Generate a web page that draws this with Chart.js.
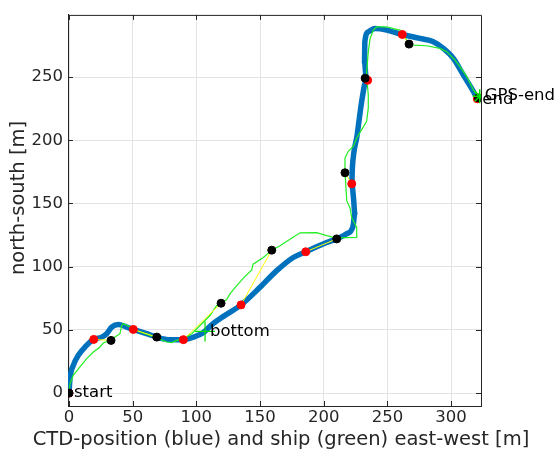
<!DOCTYPE html>
<html>
<head>
<meta charset="utf-8">
<script src="https://cdn.jsdelivr.net/npm/chart.js@4.4.0/dist/chart.umd.min.js"></script>
<style>
  html, body { margin: 0; padding: 0; background: #fff; }
</style>
</head>
<body>
<canvas id="trackChart" width="559" height="453"></canvas>
<script>
// CTD position (blue), metres east-west / north-south from start
const ctdX = [0, 0.8, 3.4, 7.3, 12.6, 19.4, 25.7, 29.6, 33.5, 38.7, 45.3, 50.5, 61, 68.9, 79.3, 89.8, 97, 105, 112, 121, 135.1,
  150, 163.1, 176.1, 185.9, 202.3, 210.2, 218, 223, 224.4, 223.5, 222, 222.5, 223.8, 225.9, 228, 229.8, 233.5, 232, 232.3,
  235, 240.3, 249.5, 261.7, 275.6, 286.1, 293.9, 301.8, 309.6, 317.5, 320.6];
const ctdY = [0, 11.8, 22, 29.9, 36.5, 42.5, 44.3, 47, 52.2, 54.3, 52.2, 50.4, 47, 44.3, 42.3, 42.3, 44, 47.5, 54, 60.5, 69.8,
  83.7, 96.9, 107.3, 111.8, 119.1, 122, 126, 132, 142, 153, 165.6, 178.2, 191.3, 202, 217.6, 230.7, 247.5, 262, 277.9,
  285.8, 288.4, 287.2, 283.7, 280.6, 278, 272.7, 264.8, 251.7, 238.6, 232.8];

// ship GPS track (green)
const shipX = [0, 0.8, 3.4, 8.6, 13.9, 19.1, 24.3, 26.9, 32.2, 36.1, 40, 41.4, 42.6, 49.2, 55.8, 63.6, 70.1, 76.7, 80.6, 84.6,
  89.8, 96.3, 102.9, 110.7, 116, 119.4, 123.8, 126.4, 130, 136.9, 143.5, 144.5, 152.6, 159.2, 165.7, 173.5, 181.4, 194.5,
  202.3, 210.2, 217, 225.9, 225.9, 222, 220.6, 218.1, 217.3, 216.7, 216.7, 219.3, 223.3, 225.9, 229.8, 233.7, 235, 235,
  234.2, 233.7, 235, 236.4, 239, 241.6, 249.5, 254.7, 259.9, 265.1, 270.4, 280.8, 291.3, 296.6, 303.1, 307, 312.3, 314.9,
  317.5, 321.4];
const shipY = [0, 7.6, 14.2, 20.7, 27.3, 32.5, 36.5, 39.6, 41.7, 44.3, 47, 53.5, 54.9, 51.7, 48.3, 45.7, 43.1, 40.4, 39.9, 41.7,
  43.1, 47, 53.5, 61.4, 69.3, 71.1, 74, 78.5, 83, 91, 97.5, 102, 107.3, 113.1, 116.5, 121.8, 126.8, 127,
  124.6, 122.6, 123, 123.1, 131, 138.8, 146.7, 152, 165.1, 174.3, 186.1, 191.3, 195.3, 201.8, 208.4, 215, 225.4, 235.7,
  244.9, 254.3, 270, 280.6, 287.2, 289.8, 289.8, 288.4, 287.2, 279.3, 275.3, 274.8, 272.7, 270.1, 263.5, 258.3, 250.4, 245.1,
  239.9, 234.6];

// positions at the same times: CTD (red) and ship (black)
const ctdMarkX = [0, 19.4, 50.5, 89.8, 135.1, 185.9, 222, 234.5, 261.7, 320.6];
const ctdMarkY = [0, 42.5, 50.4, 42.3, 69.8, 111.8, 165.6, 247.5, 283.7, 232.8];
const shipMarkX = [0, 33, 68.9, 119.4, 159.2, 210.2, 216.7, 232.5, 267, 321.5];
const shipMarkY = [0, 41.7, 44.3, 71.1, 113.1, 122, 174.3, 249.1, 276.1, 233.5];

// bottom marker (+) and GPS end (*)
const bottomX = [106.8];
const bottomY = [48.8];
const gpsEndX = [322.5];
const gpsEndY = [234.8];

// text labels
const labelText = ["start", "bottom", "end", "GPS-end"];
const labelX = [0, 106.8, 320.6, 322.5];
const labelY = [0, 48.8, 232.3, 235.6];

const xTicks = [0, 50, 100, 150, 200, 250, 300];
const yTicks = [0, 50, 100, 150, 200, 250];
const xTitle = "CTD-position (blue) and ship (green) east-west [m]";
const yTitle = "north-south [m]";

const FONT = "'DejaVu Sans', sans-serif";
const AXIS_COLOR = "#262626";

const pts = (xs, ys) => xs.map((x, i) => ({ x: x, y: ys[i] }));

// yellow links between matching CTD / ship positions
const links = ctdMarkX.map((x, i) => ({
  data: [{ x: x, y: ctdMarkY[i] }, { x: shipMarkX[i], y: shipMarkY[i] }],
  showLine: true,
  borderColor: "#ffff00",
  borderWidth: 1,
  pointRadius: 0,
  order: 3
}));

// box, inward tick marks, text labels and axis titles
const decorPlugin = {
  id: "decor",
  beforeDatasetsDraw(chart) {
    const { ctx, chartArea: a, scales } = chart;
    ctx.save();
    ctx.strokeStyle = AXIS_COLOR;
    ctx.lineWidth = 1;
    ctx.beginPath();
    ctx.moveTo(a.left, a.top + 0.5);
    ctx.lineTo(a.right + 0.5, a.top + 0.5);
    ctx.lineTo(a.right + 0.5, a.bottom);
    xTicks.forEach(v => {
      const px = Math.round(scales.x.getPixelForValue(v)) + 0.5;
      ctx.moveTo(px, a.bottom); ctx.lineTo(px, a.bottom - 5);
      ctx.moveTo(px, a.top); ctx.lineTo(px, a.top + 5);
    });
    yTicks.forEach(v => {
      const py = Math.round(scales.y.getPixelForValue(v)) + 0.5;
      ctx.moveTo(a.left, py); ctx.lineTo(a.left + 5, py);
      ctx.moveTo(a.right, py); ctx.lineTo(a.right - 5, py);
    });
    ctx.stroke();
    ctx.restore();
  },
  afterDatasetsDraw(chart) {
    const { ctx, scales } = chart;
    ctx.save();
    ctx.font = "16.5px " + FONT;
    ctx.fillStyle = "#000";
    ctx.textBaseline = "middle";
    ctx.textAlign = "left";
    labelText.forEach((t, i) => {
      ctx.fillText(t, scales.x.getPixelForValue(labelX[i]) + 5, scales.y.getPixelForValue(labelY[i]));
    });
    // axis titles (wider than the plot box, so drawn here)
    ctx.font = "19.5px " + FONT;
    ctx.fillStyle = AXIS_COLOR;
    ctx.textAlign = "center";
    ctx.fillText(xTitle, 281, 440);
    ctx.translate(19, 198);
    ctx.rotate(-Math.PI / 2);
    ctx.fillText(yTitle, 0, 0);
    ctx.restore();
  }
};

new Chart(document.getElementById("trackChart"), {
  type: "scatter",
  data: {
    datasets: [
      {
        data: pts(shipMarkX, shipMarkY),
        backgroundColor: "#000",
        borderColor: "#000",
        pointRadius: 4,
        order: 0
      },
      {
        data: pts(ctdMarkX, ctdMarkY),
        backgroundColor: "#ff0000",
        borderColor: "#ff0000",
        pointRadius: 4,
        order: 1
      },
      {
        data: pts(gpsEndX, gpsEndY),
        pointStyle: "star",
        pointRadius: 7,
        borderColor: "#00e000",
        borderWidth: 1.5,
        order: -1
      },
      {
        data: pts(bottomX, bottomY),
        pointStyle: "cross",
        pointRadius: 10,
        borderColor: "#00e000",
        borderWidth: 1.2,
        order: 2
      },
      ...links,
      {
        data: pts(shipX, shipY),
        showLine: true,
        borderColor: "#22ee22",
        borderWidth: 1.2,
        pointRadius: 0,
        order: 4
      },
      {
        data: pts(ctdX, ctdY),
        showLine: true,
        borderColor: "#0072BD",
        borderWidth: 5.5,
        borderCapStyle: "round",
        borderJoinStyle: "round",
        cubicInterpolationMode: "monotone",
        pointRadius: 0,
        order: 5
      }
    ]
  },
  options: {
    responsive: false,
    animation: false,
    events: [],
    layout: { padding: { top: 13, right: 78, left: 0, bottom: 0 } },
    plugins: {
      legend: { display: false },
      tooltip: { enabled: false }
    },
    scales: {
      x: {
        type: "linear",
        min: -0.8,
        max: 323.5,
        afterBuildTicks: s => { s.ticks = xTicks.map(v => ({ value: v })); },
        afterFit: s => { s.height = 47; },
        grid: { color: "#e3e3e3", drawTicks: false },
        border: { display: true, color: AXIS_COLOR, width: 1 },
        ticks: { padding: 2, color: AXIS_COLOR, font: { family: FONT, size: 16.5 } }
      },
      y: {
        type: "linear",
        min: -10.2,
        max: 299.2,
        afterBuildTicks: s => { s.ticks = yTicks.map(v => ({ value: v })); },
        afterFit: s => { s.width = 68; },
        grid: { color: "#e3e3e3", drawTicks: false },
        border: { display: true, color: AXIS_COLOR, width: 1 },
        ticks: { padding: 5, color: AXIS_COLOR, font: { family: FONT, size: 16.5 } }
      }
    }
  },
  plugins: [decorPlugin]
});
</script>
</body>
</html>
